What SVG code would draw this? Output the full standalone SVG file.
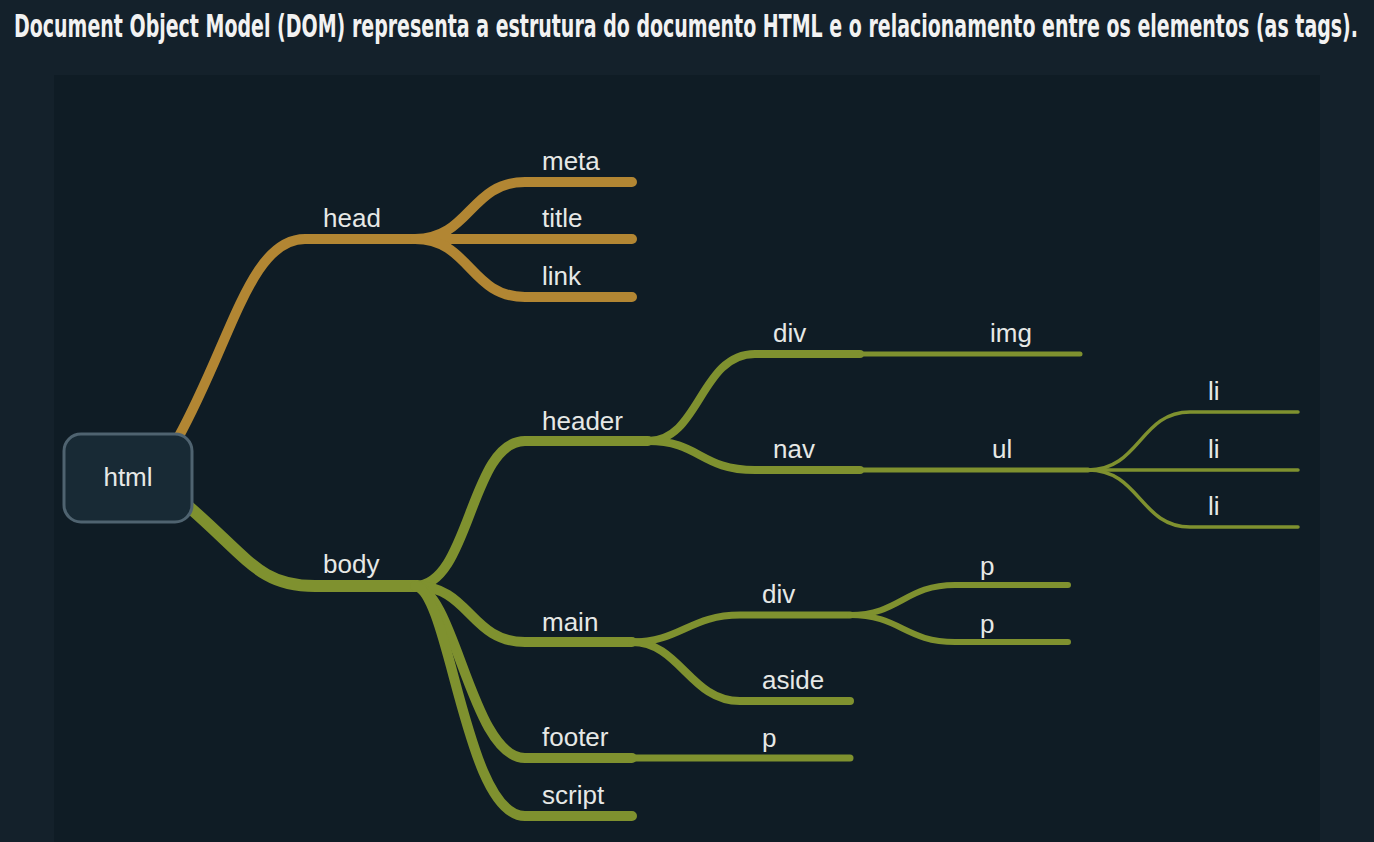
<svg xmlns="http://www.w3.org/2000/svg" width="1374" height="842" viewBox="0 0 1374 842">
<style>
.bg{fill:#14212b}
.panel{fill:#0f1c25}
.title{font-family:"Liberation Sans Narrow","DejaVu Sans Condensed","Liberation Sans",sans-serif;font-weight:bold;font-size:25px;fill:#f2f2f2}
.lbl{font-family:"Liberation Sans",Arial,sans-serif;font-size:26px;fill:#e6e8e6}
.or{fill:none;stroke:#b28633;stroke-linecap:round;stroke-linejoin:round}
.gr{fill:none;stroke:#7f912f;stroke-linecap:round;stroke-linejoin:round}
.node{fill:#182a35;stroke:#4f6370;stroke-width:3}
</style>
<rect class="bg" x="0" y="0" width="1374" height="842"/>
<rect class="panel" x="54" y="75" width="1266" height="767"/>
<text class="title" transform="translate(14,37) scale(1,1.3)" x="0" y="0" textLength="1344" lengthAdjust="spacingAndGlyphs">Document Object Model (DOM) representa a estrutura do documento HTML e o relacionamento entre os elementos (as tags).</text>
<g id="connectors">
<path class="or" stroke-width="10" d="M 178 438 C 232 340, 250 239, 305 239 H 417"/>
<path class="or" stroke-width="10" d="M 415 239 C 470 239, 470 182, 525 182 H 632"/>
<path class="or" stroke-width="10" d="M 415 239 H 632"/>
<path class="or" stroke-width="10" d="M 415 239 C 470 239, 470 297, 525 297 H 632"/>
<path class="gr" stroke-width="12" d="M 188 506 C 250 560, 260 586, 315 586 H 418"/>
<path class="gr" stroke-width="10" d="M 415 586 C 470 586, 470 441, 525 441 H 648"/>
<path class="gr" stroke-width="10" d="M 415 586 C 470 586, 470 642, 525 642 H 632"/>
<path class="gr" stroke-width="10" d="M 415 586 C 455 590, 472 758, 525 758 H 632"/>
<path class="gr" stroke-width="10" d="M 415 586 C 450 590, 465 816, 525 816 H 632"/>
<path class="gr" stroke-width="7" d="M 632 758 H 850"/>
<path class="gr" stroke-width="8" d="M 648 441 C 700 441, 700 354, 755 354 H 860"/>
<path class="gr" stroke-width="5" d="M 860 354 H 1080"/>
<path class="gr" stroke-width="8" d="M 648 441 C 700 441, 700 470, 755 470 H 860"/>
<path class="gr" stroke-width="5" d="M 860 470 H 1088"/>
<path class="gr" stroke-width="3.5" d="M 1088 470 C 1140 470, 1140 412, 1190 412 H 1298"/>
<path class="gr" stroke-width="3.5" d="M 1088 470 H 1298"/>
<path class="gr" stroke-width="3.5" d="M 1088 470 C 1140 470, 1140 527, 1190 527 H 1298"/>
<path class="gr" stroke-width="7" d="M 632 642 C 680 642, 690 615, 740 615 H 850"/>
<path class="gr" stroke-width="6" d="M 850 615 C 900 615, 905 585, 955 585 H 1068"/>
<path class="gr" stroke-width="6" d="M 850 615 C 900 615, 905 642, 955 642 H 1068"/>
<path class="gr" stroke-width="8" d="M 632 642 C 680 642, 690 701, 740 701 H 850"/>
</g>
<g id="n-html"><rect class="node" x="64" y="434" width="128" height="88" rx="17"/><text class="lbl" x="128" y="486" text-anchor="middle">html</text></g>
<g id="n-head"><text class="lbl" x="323" y="227">head</text></g>
<g id="n-meta"><text class="lbl" x="542" y="170">meta</text></g>
<g id="n-title"><text class="lbl" x="542" y="227">title</text></g>
<g id="n-link"><text class="lbl" x="542" y="285">link</text></g>
<g id="n-body"><text class="lbl" x="323" y="573">body</text></g>
<g id="n-header"><text class="lbl" x="542" y="430">header</text></g>
<g id="n-main"><text class="lbl" x="542" y="631">main</text></g>
<g id="n-footer"><text class="lbl" x="542" y="746">footer</text></g>
<g id="n-script"><text class="lbl" x="542" y="804">script</text></g>
<g id="n-div1"><text class="lbl" x="773" y="342">div</text></g>
<g id="n-img"><text class="lbl" x="990" y="342">img</text></g>
<g id="n-nav"><text class="lbl" x="773" y="458">nav</text></g>
<g id="n-ul"><text class="lbl" x="992" y="458">ul</text></g>
<g id="n-li1"><text class="lbl" x="1208" y="400">li</text></g>
<g id="n-li2"><text class="lbl" x="1208" y="458">li</text></g>
<g id="n-li3"><text class="lbl" x="1208" y="515">li</text></g>
<g id="n-div2"><text class="lbl" x="762" y="603">div</text></g>
<g id="n-p1"><text class="lbl" x="980" y="575">p</text></g>
<g id="n-p2"><text class="lbl" x="980" y="633">p</text></g>
<g id="n-aside"><text class="lbl" x="762" y="689">aside</text></g>
<g id="n-p3"><text class="lbl" x="762" y="747">p</text></g>
</svg>
